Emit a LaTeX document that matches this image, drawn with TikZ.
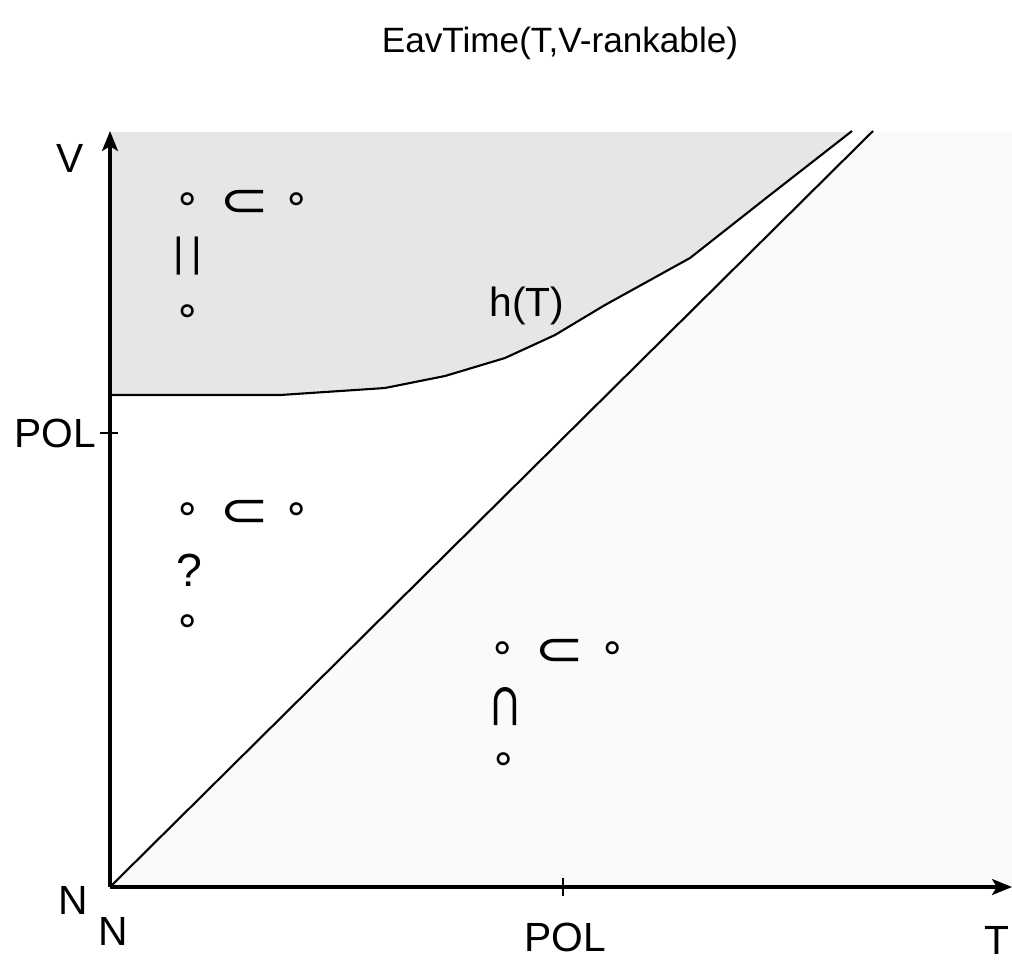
\documentclass[tikz,border=0pt]{standalone}
\usepackage{fontspec}
\setmainfont{Liberation Sans}
\newfontfamily\symfont{DejaVu Sans}
\usetikzlibrary{arrows.meta}
\definecolor{regionDark}{HTML}{E6E6E6}
\definecolor{regionLight}{HTML}{FAFAFA}

\begin{document}
\begin{tikzpicture}[x=0.025cm, y=-0.025cm,
    lbl/.style={font=\fontsize{29}{34}\selectfont, inner sep=0pt},
    sym/.style={font=\symfont\fontsize{30}{34}\selectfont, inner sep=0pt},
    subs/.style={font=\symfont\fontsize{34}{40}\selectfont, inner sep=0pt},
    axis/.style={line width=2.2pt, -{Stealth[length=0.5cm, width=0.4cm, inset=0.12cm]}},
    bound/.style={line width=1.5pt}]
  \useasboundingbox (0,0) rectangle (1012,963);

  % shaded regions
  \fill[regionLight] (110,887) -- (873,132) -- (1012,132) -- (1012,887) -- cycle;
  \fill[regionDark] (110,132) -- (110,395) -- (280,395) -- (385,388) -- (445,376)
    -- (505,358) -- (555,335) -- (605,305) -- (690,258) -- (770,195) -- (852,132) -- cycle;

  % axes
  \coordinate (orig) at (110,887);
  \coordinate (vend) at (110,131);
  \coordinate (tend) at (1012,887);
  \draw[axis] (orig) -- (vend);
  \draw[axis] (orig) -- (tend);
  \draw[bound] (100,433) -- (118,433);
  \draw[bound] (563,878) -- (563,896);

  % boundaries
  \coordinate (diagend) at (873,131);
  \draw[bound] (orig) -- (diagend);
  \draw[bound] (110,395) -- (280,395) -- (385,388) -- (445,376) -- (505,358)
    -- (555,335) -- (605,305) -- (690,258) -- (770,195) -- (852,131);

  % labels
  \node[lbl, font=\fontsize{25}{30}\selectfont] (title) at (560,43) {EavTime(T,V-rankable)};
  \node[lbl] (vlab) at (70,158) {V};
  \node[lbl, anchor=east] (polv) at (96,433) {POL};
  \node[lbl] (nv) at (73,900) {N};
  \node[lbl] (nt) at (113,931) {N};
  \node[lbl] (polt) at (565,937) {POL};
  \node[lbl] (tlab) at (997,940) {T};
  \node[lbl] (hlab) at (527,306) {h(T)};

  % upper region
  \node[sym] (ua) at (188,203) {∘};
  \node[subs] (usub) at (245,203) {\scalebox{1.25}[1]{⊂}};
  \node[sym] (ub) at (297,203) {∘};
  \node[lbl] (ueq) at (188,256) {|\kern.18em|};
  \node[sym] (uc) at (188,315) {∘};

  % middle region
  \node[sym] (ma) at (188,513) {∘};
  \node[subs] (msub) at (245,513) {\scalebox{1.25}[1]{⊂}};
  \node[sym] (mb) at (297,513) {∘};
  \node[lbl, font=\fontsize{33}{38}\selectfont] (mq) at (189,570) {?};
  \node[sym] (mc) at (188,625) {∘};

  % lower region
  \node[sym] (la) at (503,652) {∘};
  \node[subs] (lsub) at (560,652) {\scalebox{1.25}[1]{⊂}};
  \node[sym] (lb) at (613,652) {∘};
  \node[subs, rotate=-90] (lcap) at (504,707) {\scalebox{1.25}[1]{⊂}};
  \node[sym] (lc) at (504,763) {∘};
\end{tikzpicture}
\end{document}
